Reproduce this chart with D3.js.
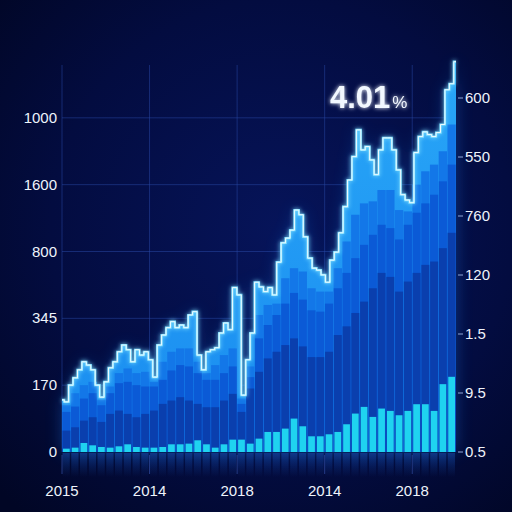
<!DOCTYPE html>
<html>
<head>
<meta charset="utf-8">
<script src="https://cdn.jsdelivr.net/npm/d3@7"></script>
<style>
  html, body { margin: 0; padding: 0; background: #020a36; }
  svg { display: block; }
</style>
</head>
<body>
<script>
// ---- data ----
var xLabels = ["2015", "2014", "2018", "2014", "2018"];
var xLabelAt = [0, 10, 20, 30, 40];            // bar index of each label
var leftLabels = ["0", "170", "345", "800", "1600", "1000"];
var leftAt = [0, 100, 200, 300, 400, 500];
var rightLabels = ["0.5", "9.5", "1.5", "120", "760", "550", "600"];
var headline = "4.01";

// bottom cyan bars
var cyanVals = [5, 6.5, 13.5, 10, 7.5, 6.5, 8.5, 11.5, 7.5, 6.5, 6.5, 7.5, 11.5, 11.5, 12.5,
  17.5, 11.5, 6.5, 11.5, 18.5, 18.5, 12.5, 20, 30, 30, 35, 50, 38.5, 23.5, 23.5,
  26.5, 30, 41.5, 57.5, 67.5, 52.5, 65, 61.5, 55, 61.5, 71.5, 71.5, 61.5, 101.5, 112.5];
// tops of the stacked blue bands (cumulative)
var darkTops = [32, 37, 47, 52, 45, 57, 62, 57, 52, 57, 62, 72, 77, 82, 77,
  72, 67, 67, 77, 87, 60, 95, 120, 140, 150, 160, 170, 158, 142, 142,
  150, 175, 188, 208, 225, 245, 268, 262, 240, 255, 268, 280, 285, 305, 328];
var medTops = [60, 68, 80, 88, 70, 88, 103, 105, 100, 98, 98, 108, 122, 130, 128,
  118, 108, 108, 118, 128, 72, 112, 170, 190, 205, 222, 238, 228, 212, 210,
  222, 245, 268, 290, 310, 325, 340, 335, 318, 340, 358, 372, 385, 405, 430];
var lightTops = [70, 88, 100, 105, 78, 98, 118, 125, 118, 120, 105, 135, 150, 155, 155,
  135, 118, 130, 145, 155, 80, 128, 205, 220, 222, 260, 275, 270, 245, 240,
  240, 275, 315, 355, 372, 375, 392, 392, 362, 360, 400, 420, 430, 450, 490];
// jagged top outline (two points per bar)
var outlineVals = [78, 75, 100, 111, 123, 135, 130, 123, 100, 82, 105, 126, 135, 150, 160,
  153, 135, 153, 145, 150, 138, 112, 160, 175, 186, 195, 186, 190, 186, 205,
  210, 145, 123, 150, 153, 156, 178, 193, 183, 246, 235, 85, 138, 178, 254,
  247, 240, 246, 235, 284, 313, 320, 332, 362, 355, 322, 290, 275, 272, 265,
  254, 287, 299, 328, 367, 407, 442, 482, 452, 457, 437, 415, 452, 470, 470,
  452, 422, 385, 377, 373, 448, 472, 479, 475, 472, 478, 490, 542, 551, 584];

var W = 512, H = 512;
var nBars = cyanVals.length;

var x = d3.scaleLinear().domain([0, nBars]).range([62, 456]);
var y = d3.scaleLinear().domain([0, 600]).range([452, 51]);
var yr = d3.scaleLinear().domain([0, rightLabels.length - 1]).range([452, 98]);
var xo = d3.scaleLinear().domain([0, outlineVals.length - 1]).range([62, 456]);
var bw = x(1) - x(0);

var svg = d3.select("body").append("svg")
  .attr("width", W).attr("height", H);

var defs = svg.append("defs");

// background glow
var bg = defs.append("radialGradient").attr("id", "bg")
  .attr("cx", "55%").attr("cy", "45%").attr("r", "75%");
bg.append("stop").attr("offset", "0%").attr("stop-color", "#06145a");
bg.append("stop").attr("offset", "60%").attr("stop-color", "#030c40");
bg.append("stop").attr("offset", "100%").attr("stop-color", "#010625");

var glow = defs.append("filter").attr("id", "glow")
  .attr("x", "-20%").attr("y", "-20%").attr("width", "140%").attr("height", "140%");
glow.append("feGaussianBlur").attr("in", "SourceGraphic").attr("stdDeviation", 2).attr("result", "b");
var gm = glow.append("feMerge");
gm.append("feMergeNode").attr("in", "b");
gm.append("feMergeNode").attr("in", "SourceGraphic");

var halo = defs.append("filter").attr("id", "halo")
  .attr("x", "-30%").attr("y", "-30%").attr("width", "160%").attr("height", "160%");
halo.append("feGaussianBlur").attr("stdDeviation", 8);

var topGrad = defs.append("linearGradient").attr("id", "topGrad")
  .attr("x1", 0).attr("y1", 0).attr("x2", 0).attr("y2", 1);
topGrad.append("stop").attr("offset", "0%").attr("stop-color", "#28a6f7");
topGrad.append("stop").attr("offset", "100%").attr("stop-color", "#1a8cf0");

var reflGrad = defs.append("linearGradient").attr("id", "reflGrad")
  .attr("x1", 0).attr("y1", 0).attr("x2", 0).attr("y2", 1);
reflGrad.append("stop").attr("offset", "0%").attr("stop-color", "#1b5fd0").attr("stop-opacity", 0.4);
reflGrad.append("stop").attr("offset", "100%").attr("stop-color", "#1b5fd0").attr("stop-opacity", 0);

svg.append("rect").attr("width", W).attr("height", H).attr("fill", "url(#bg)");

// grid
var grid = svg.append("g").attr("stroke", "#2a4aa8").attr("stroke-opacity", 0.5).attr("stroke-width", 1);
grid.selectAll("line.h").data(leftAt.slice(1)).enter().append("line")
  .attr("x1", x(0)).attr("x2", x(nBars))
  .attr("y1", function (d) { return y(d); })
  .attr("y2", function (d) { return y(d); });
grid.selectAll("line.v").data(xLabelAt).enter().append("line")
  .attr("x1", function (d) { return x(d); })
  .attr("x2", function (d) { return x(d); })
  .attr("y1", 65).attr("y2", y(0));

// soft halo behind the area
var area = d3.area()
  .curve(d3.curveStep)
  .x(function (d, i) { return xo(i); })
  .y0(y(0))
  .y1(function (d) { return y(d); });
svg.append("path").datum(outlineVals)
  .attr("d", area).attr("fill", "#1a7ff0").attr("opacity", 0.35)
  .attr("filter", "url(#halo)");

// reflection under the baseline
svg.append("g").selectAll("rect").data(cyanVals).enter().append("rect")
  .attr("x", function (d, i) { return x(i) + 0.5; })
  .attr("y", y(0) + 1)
  .attr("width", bw - 1.5)
  .attr("height", 24)
  .attr("fill", "url(#reflGrad)");

// top band: area under the outline
svg.append("path").datum(outlineVals)
  .attr("d", area).attr("fill", "url(#topGrad)");

// stacked bands as bars
function band(tops, color, gap) {
  svg.append("g").selectAll("rect").data(tops).enter().append("rect")
    .attr("x", function (d, i) { return x(i) + gap / 2; })
    .attr("y", function (d) { return y(d); })
    .attr("width", bw - gap)
    .attr("height", function (d) { return y(0) - y(d); })
    .attr("fill", color);
}
band(lightTops, "#1377e8", 0.4);
band(medTops, "#0b5ad6", 0.6);
band(darkTops, "#0a3fae", 0.8);

// cyan bars
svg.append("g").selectAll("rect").data(cyanVals).enter().append("rect")
  .attr("x", function (d, i) { return x(i) + 1; })
  .attr("y", function (d) { return y(d); })
  .attr("width", bw - 2)
  .attr("height", function (d) { return y(0) - y(d); })
  .attr("fill", "#1fd3f0");

// glowing outline
var line = d3.line()
  .curve(d3.curveStep)
  .x(function (d, i) { return xo(i); })
  .y(function (d) { return y(d); });
svg.append("path").datum(outlineVals)
  .attr("d", line).attr("fill", "none")
  .attr("stroke", "#7fe0ff").attr("stroke-width", 2.2)
  .attr("filter", "url(#glow)");
svg.append("path").datum(outlineVals)
  .attr("d", line).attr("fill", "none")
  .attr("stroke", "#eefaff").attr("stroke-width", 1);

// axes text
var font = "'Liberation Sans', Arial, sans-serif";
svg.append("g").selectAll("text").data(leftLabels).enter().append("text")
  .attr("x", 57)
  .attr("y", function (d, i) { return y(leftAt[i]) + 5; })
  .attr("text-anchor", "end")
  .attr("font-family", font).attr("font-size", 15)
  .attr("fill", "#eef3fb")
  .text(function (d) { return d; });

// x ticks
svg.append("g").selectAll("line").data(xLabelAt).enter().append("line")
  .attr("x1", function (d) { return x(d); })
  .attr("x2", function (d) { return x(d); })
  .attr("y1", y(0) + 3).attr("y2", y(0) + 22)
  .attr("stroke", "#3a5ab8").attr("stroke-opacity", 0.6);
svg.append("g").selectAll("text").data(xLabels).enter().append("text")
  .attr("x", function (d, i) { return x(xLabelAt[i]); })
  .attr("y", 496)
  .attr("text-anchor", "middle")
  .attr("font-family", font).attr("font-size", 15)
  .attr("fill", "#eef3fb")
  .text(function (d) { return d; });

// right axis
var rg = svg.append("g");
rg.selectAll("line").data(rightLabels).enter().append("line")
  .attr("x1", 458).attr("x2", 463)
  .attr("y1", function (d, i) { return yr(i); })
  .attr("y2", function (d, i) { return yr(i); })
  .attr("stroke", "#8fa6d8");
rg.selectAll("text").data(rightLabels).enter().append("text")
  .attr("x", 465)
  .attr("y", function (d, i) { return yr(i) + 5; })
  .attr("font-family", font).attr("font-size", 15)
  .attr("fill", "#eef3fb")
  .text(function (d) { return d; });

// headline
var hl = svg.append("text")
  .attr("x", 330).attr("y", 108)
  .attr("font-family", font).attr("font-weight", "bold")
  .attr("fill", "#f2f8ff").attr("filter", "url(#glow)");
hl.append("tspan").attr("font-size", 31).text(headline);
hl.append("tspan").attr("font-size", 17).attr("font-weight", "normal").attr("dx", 2).text("%");
</script>
</body>
</html>
